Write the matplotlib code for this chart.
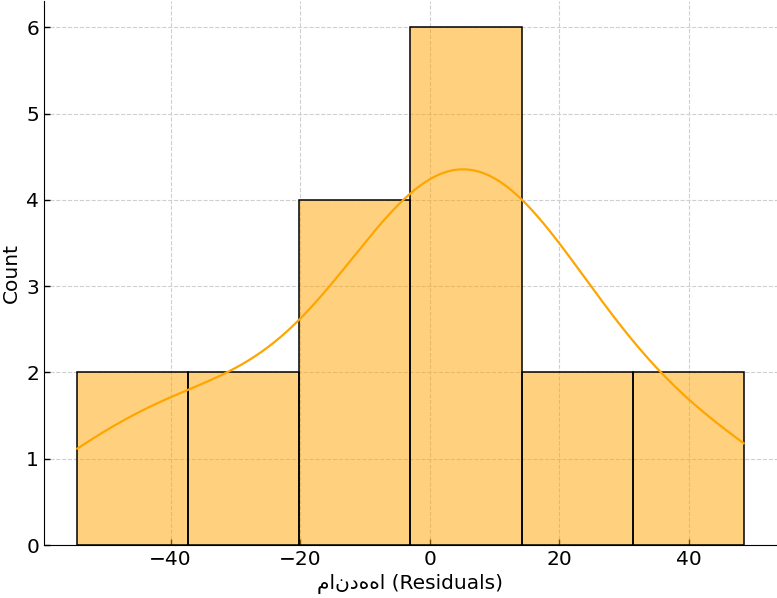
import numpy as np
import matplotlib
matplotlib.use("Agg")
import matplotlib.pyplot as plt

# Residual values (consistent with bin counts 2,2,4,6,2,2)
residuals = [-54.4, -43.0, -35.0, -29.0, -12.0, -8.0, -5.0, -3.5,
             1.5, 5.0, 8.0, 10.0, 12.0, 14.0, 21.0, 25.0, 41.0, 48.5]
n_bins = 6
bar_color = "orange"
xlabel = "ماندهها (Residuals)"
ylabel = "Count"
xticks = [-40, -20, 0, 20, 40]
yticks = [0, 1, 2, 3, 4, 5, 6]

data = np.asarray(residuals, dtype=float)

fig = plt.figure(figsize=(7.77, 5.98), dpi=100)
ax = fig.add_axes([0.0566, 0.0886, 0.9434, 0.909])

counts, edges, _ = ax.hist(data, bins=n_bins, color=bar_color, alpha=0.5,
                           edgecolor="none", zorder=2)
ax.hist(data, bins=n_bins, histtype="bar", fill=False, edgecolor="black",
        linewidth=1.1, zorder=3)

# Gaussian KDE (Scott bandwidth), scaled to counts, clipped to data range
n = len(data)
bw = data.std(ddof=1) * n ** (-1 / 5)
xs = np.linspace(data.min(), data.max(), 400)
dens = np.exp(-0.5 * ((xs[:, None] - data[None, :]) / bw) ** 2).sum(axis=1) / (n * bw * np.sqrt(2 * np.pi))
binw = edges[1] - edges[0]
ax.plot(xs, dens * n * binw, color=bar_color, linewidth=1.6, zorder=4)

ax.set_xlabel(xlabel, fontsize=14.5)
ax.set_ylabel(ylabel, fontsize=14.5)
ax.tick_params(labelsize=14.5, direction="in", length=4, width=1)
ax.set_xticks(xticks)
ax.set_yticks(yticks)
ax.set_ylim(0, 6.3)
ax.grid(True, linestyle="--", color="#cfcfcf", linewidth=0.8, zorder=0)
ax.set_axisbelow(True)
ax.spines["top"].set_visible(False)
ax.spines["right"].set_visible(False)

fig.savefig("out.png", dpi=100)
